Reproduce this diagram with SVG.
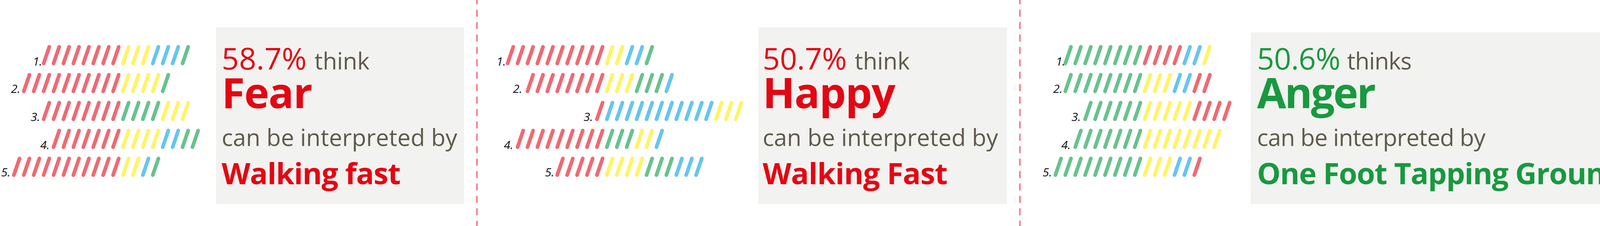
<svg xmlns="http://www.w3.org/2000/svg" width="5534" height="579" viewBox="0 0 5534 579">
<style>
.bars{stroke-width:9.5;stroke-linecap:round;fill:none}
.r{stroke:#EF6A72}.y{stroke:#FFF466}.b{stroke:#66C5EF}.g{stroke:#68C28D}
.num{font-family:"Open Sans",sans-serif;font-style:italic;font-size:30px;fill:#111111;text-anchor:end}
.t{font-family:"Open Sans",sans-serif}
.pct{font-size:77px}
.think{font-size:60px;fill:#5E5A4B}
.big{font-size:108px;font-weight:700}
.act{font-size:76px;font-weight:700}
.red{fill:#E30613}.grn{fill:#18993F}.blu{fill:#219BD9}
.box{fill:#F2F2F0}
.sep{stroke:#EE5A65;stroke-width:3;stroke-dasharray:18 13.8;stroke-dashoffset:7;fill:none}
</style>
<defs>
<line id="s" x1="0" y1="0" x2="-14.5" y2="42.5"/>
</defs>
<rect width="5534" height="579" fill="#FFFFFF"/>

<g id="separators">
<line class="sep" x1="1221" y1="0" x2="1221" y2="579"/>
<line class="sep" x1="2611" y1="0" x2="2611" y2="579"/>
<line class="sep" x1="4216" y1="0" x2="4216" y2="579"/>
</g>

<g id="panel-fear">
<g class="bars">
<g transform="translate(126.2,120)"><use href="#s" x="0" class="r"/><use href="#s" x="25.4" class="r"/><use href="#s" x="50.8" class="r"/><use href="#s" x="76.2" class="r"/><use href="#s" x="101.6" class="r"/><use href="#s" x="127" class="r"/><use href="#s" x="152.4" class="r"/><use href="#s" x="177.8" class="r"/><use href="#s" x="203.2" class="y"/><use href="#s" x="228.6" class="y"/><use href="#s" x="254" class="y"/><use href="#s" x="279.4" class="b"/><use href="#s" x="304.8" class="b"/><use href="#s" x="330.2" class="b"/><use href="#s" x="355.6" class="g"/></g>
<g transform="translate(75.4,191.5)"><use href="#s" x="0" class="r"/><use href="#s" x="25.4" class="r"/><use href="#s" x="50.8" class="r"/><use href="#s" x="76.2" class="r"/><use href="#s" x="101.6" class="r"/><use href="#s" x="127" class="r"/><use href="#s" x="152.4" class="r"/><use href="#s" x="177.8" class="r"/><use href="#s" x="203.2" class="r"/><use href="#s" x="228.6" class="r"/><use href="#s" x="254" class="y"/><use href="#s" x="279.4" class="y"/><use href="#s" x="304.8" class="y"/><use href="#s" x="330.2" class="y"/><use href="#s" x="355.6" class="g"/></g>
<g transform="translate(126.2,263)"><use href="#s" x="0" class="r"/><use href="#s" x="25.4" class="r"/><use href="#s" x="50.8" class="r"/><use href="#s" x="76.2" class="r"/><use href="#s" x="101.6" class="r"/><use href="#s" x="127" class="r"/><use href="#s" x="152.4" class="r"/><use href="#s" x="177.8" class="r"/><use href="#s" x="203.2" class="g"/><use href="#s" x="228.6" class="g"/><use href="#s" x="254" class="g"/><use href="#s" x="279.4" class="g"/><use href="#s" x="304.8" class="y"/><use href="#s" x="330.2" class="y"/><use href="#s" x="355.6" class="y"/></g>
<g transform="translate(151.6,334.5)"><use href="#s" x="0" class="r"/><use href="#s" x="25.4" class="r"/><use href="#s" x="50.8" class="r"/><use href="#s" x="76.2" class="r"/><use href="#s" x="101.6" class="r"/><use href="#s" x="127" class="r"/><use href="#s" x="152.4" class="r"/><use href="#s" x="177.8" class="y"/><use href="#s" x="203.2" class="y"/><use href="#s" x="228.6" class="y"/><use href="#s" x="254" class="y"/><use href="#s" x="279.4" class="b"/><use href="#s" x="304.8" class="b"/><use href="#s" x="330.2" class="g"/><use href="#s" x="355.6" class="g"/></g>
<g transform="translate(50,406)"><use href="#s" x="0" class="r"/><use href="#s" x="25.4" class="r"/><use href="#s" x="50.8" class="r"/><use href="#s" x="76.2" class="r"/><use href="#s" x="101.6" class="r"/><use href="#s" x="127" class="r"/><use href="#s" x="152.4" class="r"/><use href="#s" x="177.8" class="r"/><use href="#s" x="203.2" class="r"/><use href="#s" x="228.6" class="r"/><use href="#s" x="254" class="r"/><use href="#s" x="279.4" class="y"/><use href="#s" x="304.8" class="y"/><use href="#s" x="330.2" class="b"/><use href="#s" x="355.6" class="g"/></g>
</g>
<text class="num" x="108" y="167.5">1.</text>
<text class="num" x="52" y="238">2.</text>
<text class="num" x="102.5" y="310">3.</text>
<text class="num" x="127" y="382">4.</text>
<text class="num" x="26.7" y="452">5.</text>
<rect class="box" x="553" y="70" width="635" height="453"/>
<text class="t pct red" x="567.5" y="178.3" textLength="217.5">58.7%</text>
<text class="t think" x="805" y="178.3" textLength="141">think</text>
<text class="t big red" x="567.5" y="276.7" textLength="232.5">Fear</text>
<text class="t think" x="567.5" y="374" textLength="603">can be interpreted by</text>
<text class="t act red" x="567.5" y="472" textLength="458.5">Walking fast</text>
</g>

<g id="panel-happy">
<g class="bars">
<g transform="translate(1314,120)"><use href="#s" x="0" class="r"/><use href="#s" x="25.4" class="r"/><use href="#s" x="50.8" class="r"/><use href="#s" x="76.2" class="r"/><use href="#s" x="101.6" class="r"/><use href="#s" x="127" class="r"/><use href="#s" x="152.4" class="r"/><use href="#s" x="177.8" class="r"/><use href="#s" x="203.2" class="r"/><use href="#s" x="228.6" class="r"/><use href="#s" x="254" class="y"/><use href="#s" x="279.4" class="y"/><use href="#s" x="304.8" class="b"/><use href="#s" x="330.2" class="b"/><use href="#s" x="355.6" class="g"/></g>
<g transform="translate(1364.8,191.5)"><use href="#s" x="0" class="r"/><use href="#s" x="25.4" class="r"/><use href="#s" x="50.8" class="r"/><use href="#s" x="76.2" class="r"/><use href="#s" x="101.6" class="r"/><use href="#s" x="127" class="r"/><use href="#s" x="152.4" class="r"/><use href="#s" x="177.8" class="r"/><use href="#s" x="203.2" class="y"/><use href="#s" x="228.6" class="y"/><use href="#s" x="254" class="y"/><use href="#s" x="279.4" class="g"/><use href="#s" x="304.8" class="g"/><use href="#s" x="330.2" class="g"/><use href="#s" x="355.6" class="b"/></g>
<g transform="translate(1542.6,263)"><use href="#s" x="0" class="r"/><use href="#s" x="25.4" class="b"/><use href="#s" x="50.8" class="b"/><use href="#s" x="76.2" class="b"/><use href="#s" x="101.6" class="b"/><use href="#s" x="127" class="b"/><use href="#s" x="152.4" class="b"/><use href="#s" x="177.8" class="b"/><use href="#s" x="203.2" class="b"/><use href="#s" x="228.6" class="b"/><use href="#s" x="254" class="b"/><use href="#s" x="279.4" class="b"/><use href="#s" x="304.8" class="y"/><use href="#s" x="330.2" class="y"/><use href="#s" x="355.6" class="y"/></g>
<g transform="translate(1339.4,334.5)"><use href="#s" x="0" class="r"/><use href="#s" x="25.4" class="r"/><use href="#s" x="50.8" class="r"/><use href="#s" x="76.2" class="r"/><use href="#s" x="101.6" class="r"/><use href="#s" x="127" class="r"/><use href="#s" x="152.4" class="r"/><use href="#s" x="177.8" class="r"/><use href="#s" x="203.2" class="r"/><use href="#s" x="228.6" class="g"/><use href="#s" x="254" class="g"/><use href="#s" x="279.4" class="g"/><use href="#s" x="304.8" class="y"/><use href="#s" x="330.2" class="y"/><use href="#s" x="355.6" class="b"/></g>
<g transform="translate(1441,406)"><use href="#s" x="0" class="r"/><use href="#s" x="25.4" class="r"/><use href="#s" x="50.8" class="r"/><use href="#s" x="76.2" class="r"/><use href="#s" x="101.6" class="r"/><use href="#s" x="127" class="y"/><use href="#s" x="152.4" class="y"/><use href="#s" x="177.8" class="y"/><use href="#s" x="203.2" class="y"/><use href="#s" x="228.6" class="g"/><use href="#s" x="254" class="g"/><use href="#s" x="279.4" class="g"/><use href="#s" x="304.8" class="b"/><use href="#s" x="330.2" class="b"/><use href="#s" x="355.6" class="b"/></g>
</g>
<text class="num" x="1295" y="167.5">1.</text>
<text class="num" x="1337" y="238">2.</text>
<text class="num" x="1518" y="310">3.</text>
<text class="num" x="1314" y="382">4.</text>
<text class="num" x="1419" y="452">5.</text>
<rect class="box" x="1941.5" y="70" width="636.5" height="453"/>
<text class="t pct red" x="1952.5" y="178.3" textLength="215.5">50.7%</text>
<text class="t think" x="2188" y="178.3" textLength="141">think</text>
<text class="t big red" x="1952.5" y="276.7" textLength="340">Happy</text>
<text class="t think" x="1952.5" y="374" textLength="602.5">can be interpreted by</text>
<text class="t act red" x="1952.5" y="472" textLength="473.5">Walking Fast</text>
</g>

<g id="panel-anger">
<g class="bars">
<g transform="translate(2741.7,120)"><use href="#s" x="0" class="g"/><use href="#s" x="25.4" class="g"/><use href="#s" x="50.8" class="g"/><use href="#s" x="76.2" class="g"/><use href="#s" x="101.6" class="g"/><use href="#s" x="127" class="g"/><use href="#s" x="152.4" class="g"/><use href="#s" x="177.8" class="g"/><use href="#s" x="203.2" class="r"/><use href="#s" x="228.6" class="r"/><use href="#s" x="254" class="r"/><use href="#s" x="279.4" class="r"/><use href="#s" x="304.8" class="b"/><use href="#s" x="330.2" class="b"/><use href="#s" x="355.6" class="y"/></g>
<g transform="translate(2741.7,191.5)"><use href="#s" x="0" class="g"/><use href="#s" x="25.4" class="g"/><use href="#s" x="50.8" class="g"/><use href="#s" x="76.2" class="g"/><use href="#s" x="101.6" class="g"/><use href="#s" x="127" class="g"/><use href="#s" x="152.4" class="g"/><use href="#s" x="177.8" class="g"/><use href="#s" x="203.2" class="y"/><use href="#s" x="228.6" class="y"/><use href="#s" x="254" class="y"/><use href="#s" x="279.4" class="b"/><use href="#s" x="304.8" class="b"/><use href="#s" x="330.2" class="r"/><use href="#s" x="355.6" class="r"/></g>
<g transform="translate(2792.5,263)"><use href="#s" x="0" class="g"/><use href="#s" x="25.4" class="g"/><use href="#s" x="50.8" class="g"/><use href="#s" x="76.2" class="g"/><use href="#s" x="101.6" class="g"/><use href="#s" x="127" class="g"/><use href="#s" x="152.4" class="y"/><use href="#s" x="177.8" class="y"/><use href="#s" x="203.2" class="y"/><use href="#s" x="228.6" class="y"/><use href="#s" x="254" class="y"/><use href="#s" x="279.4" class="r"/><use href="#s" x="304.8" class="r"/><use href="#s" x="330.2" class="r"/><use href="#s" x="355.6" class="r"/></g>
<g transform="translate(2767.1,334.5)"><use href="#s" x="0" class="g"/><use href="#s" x="25.4" class="g"/><use href="#s" x="50.8" class="g"/><use href="#s" x="76.2" class="g"/><use href="#s" x="101.6" class="g"/><use href="#s" x="127" class="g"/><use href="#s" x="152.4" class="g"/><use href="#s" x="177.8" class="y"/><use href="#s" x="203.2" class="y"/><use href="#s" x="228.6" class="y"/><use href="#s" x="254" class="y"/><use href="#s" x="279.4" class="y"/><use href="#s" x="304.8" class="y"/><use href="#s" x="330.2" class="y"/><use href="#s" x="355.6" class="y"/></g>
<g transform="translate(2716.3,406)"><use href="#s" x="0" class="g"/><use href="#s" x="25.4" class="g"/><use href="#s" x="50.8" class="g"/><use href="#s" x="76.2" class="g"/><use href="#s" x="101.6" class="g"/><use href="#s" x="127" class="g"/><use href="#s" x="152.4" class="g"/><use href="#s" x="177.8" class="g"/><use href="#s" x="203.2" class="g"/><use href="#s" x="228.6" class="y"/><use href="#s" x="254" class="y"/><use href="#s" x="279.4" class="y"/><use href="#s" x="304.8" class="b"/><use href="#s" x="330.2" class="b"/><use href="#s" x="355.6" class="r"/></g>
</g>
<text class="num" x="2727" y="167.5">1.</text>
<text class="num" x="2720" y="238">2.</text>
<text class="num" x="2767" y="310">3.</text>
<text class="num" x="2741" y="382">4.</text>
<text class="num" x="2693" y="452">5.</text>
<rect class="box" x="3202" y="83" width="977" height="440"/>
<text class="t pct grn" x="3218" y="178.3" textLength="213.7">50.6%</text>
<text class="t think" x="3448.5" y="178.3" textLength="165.5">thinks</text>
<text class="t big grn" x="3218" y="276.7" textLength="304.5">Anger</text>
<text class="t think" x="3218" y="374" textLength="585">can be interpreted by</text>
<text class="t act grn" x="3218" y="472" textLength="938.5">One Foot Tapping Ground</text>
</g>

<g id="panel-sad">
<g class="bars">
<g transform="translate(4329,120)"><use href="#s" x="0" class="b"/><use href="#s" x="25.4" class="b"/><use href="#s" x="50.8" class="b"/><use href="#s" x="76.2" class="b"/><use href="#s" x="101.6" class="b"/><use href="#s" x="127" class="b"/><use href="#s" x="152.4" class="b"/><use href="#s" x="177.8" class="b"/><use href="#s" x="203.2" class="b"/><use href="#s" x="228.6" class="b"/><use href="#s" x="254" class="b"/><use href="#s" x="279.4" class="b"/><use href="#s" x="304.8" class="y"/><use href="#s" x="330.2" class="y"/><use href="#s" x="355.6" class="y"/></g>
<g transform="translate(4430.6,191.5)"><use href="#s" x="0" class="b"/><use href="#s" x="25.4" class="b"/><use href="#s" x="50.8" class="b"/><use href="#s" x="76.2" class="b"/><use href="#s" x="101.6" class="b"/><use href="#s" x="127" class="b"/><use href="#s" x="152.4" class="b"/><use href="#s" x="177.8" class="b"/><use href="#s" x="203.2" class="y"/><use href="#s" x="228.6" class="y"/><use href="#s" x="254" class="y"/><use href="#s" x="279.4" class="y"/><use href="#s" x="304.8" class="y"/><use href="#s" x="330.2" class="y"/><use href="#s" x="355.6" class="g"/></g>
<g transform="translate(4456,263)"><use href="#s" x="0" class="b"/><use href="#s" x="25.4" class="b"/><use href="#s" x="50.8" class="b"/><use href="#s" x="76.2" class="b"/><use href="#s" x="101.6" class="b"/><use href="#s" x="127" class="b"/><use href="#s" x="152.4" class="b"/><use href="#s" x="177.8" class="y"/><use href="#s" x="203.2" class="y"/><use href="#s" x="228.6" class="y"/><use href="#s" x="254" class="g"/><use href="#s" x="279.4" class="g"/><use href="#s" x="304.8" class="g"/><use href="#s" x="330.2" class="r"/><use href="#s" x="355.6" class="r"/></g>
<g transform="translate(4329,334.5)"><use href="#s" x="0" class="b"/><use href="#s" x="25.4" class="b"/><use href="#s" x="50.8" class="b"/><use href="#s" x="76.2" class="b"/><use href="#s" x="101.6" class="b"/><use href="#s" x="127" class="b"/><use href="#s" x="152.4" class="b"/><use href="#s" x="177.8" class="b"/><use href="#s" x="203.2" class="b"/><use href="#s" x="228.6" class="b"/><use href="#s" x="254" class="b"/><use href="#s" x="279.4" class="b"/><use href="#s" x="304.8" class="y"/><use href="#s" x="330.2" class="y"/><use href="#s" x="355.6" class="y"/></g>
<g transform="translate(4506.8,406)"><use href="#s" x="0" class="b"/><use href="#s" x="25.4" class="b"/><use href="#s" x="50.8" class="b"/><use href="#s" x="76.2" class="b"/><use href="#s" x="101.6" class="b"/><use href="#s" x="127" class="y"/><use href="#s" x="152.4" class="y"/><use href="#s" x="177.8" class="y"/><use href="#s" x="203.2" class="y"/><use href="#s" x="228.6" class="g"/><use href="#s" x="254" class="g"/><use href="#s" x="279.4" class="g"/><use href="#s" x="304.8" class="g"/><use href="#s" x="330.2" class="r"/><use href="#s" x="355.6" class="r"/></g>
</g>
<text class="num" x="4307" y="167.5">1.</text>
<text class="num" x="4402" y="238">2.</text>
<text class="num" x="4434" y="310">3.</text>
<text class="num" x="4299" y="382">4.</text>
<text class="num" x="4475" y="452">5.</text>
<rect class="box" x="4900.6" y="70" width="633.4" height="453"/>
<text class="t pct blu" x="4917" y="178.3" textLength="236">58.7.%</text>
<text class="t think" x="5172" y="178.3" textLength="171">thinks</text>
<text class="t big blu" x="4917" y="276.7" textLength="190.5">Sad</text>
<text class="t think" x="4917" y="374" textLength="598.5">can be interpreted by</text>
<text class="t act blu" x="4917" y="472" textLength="439">Walk Slowly</text>
</g>
</svg>
